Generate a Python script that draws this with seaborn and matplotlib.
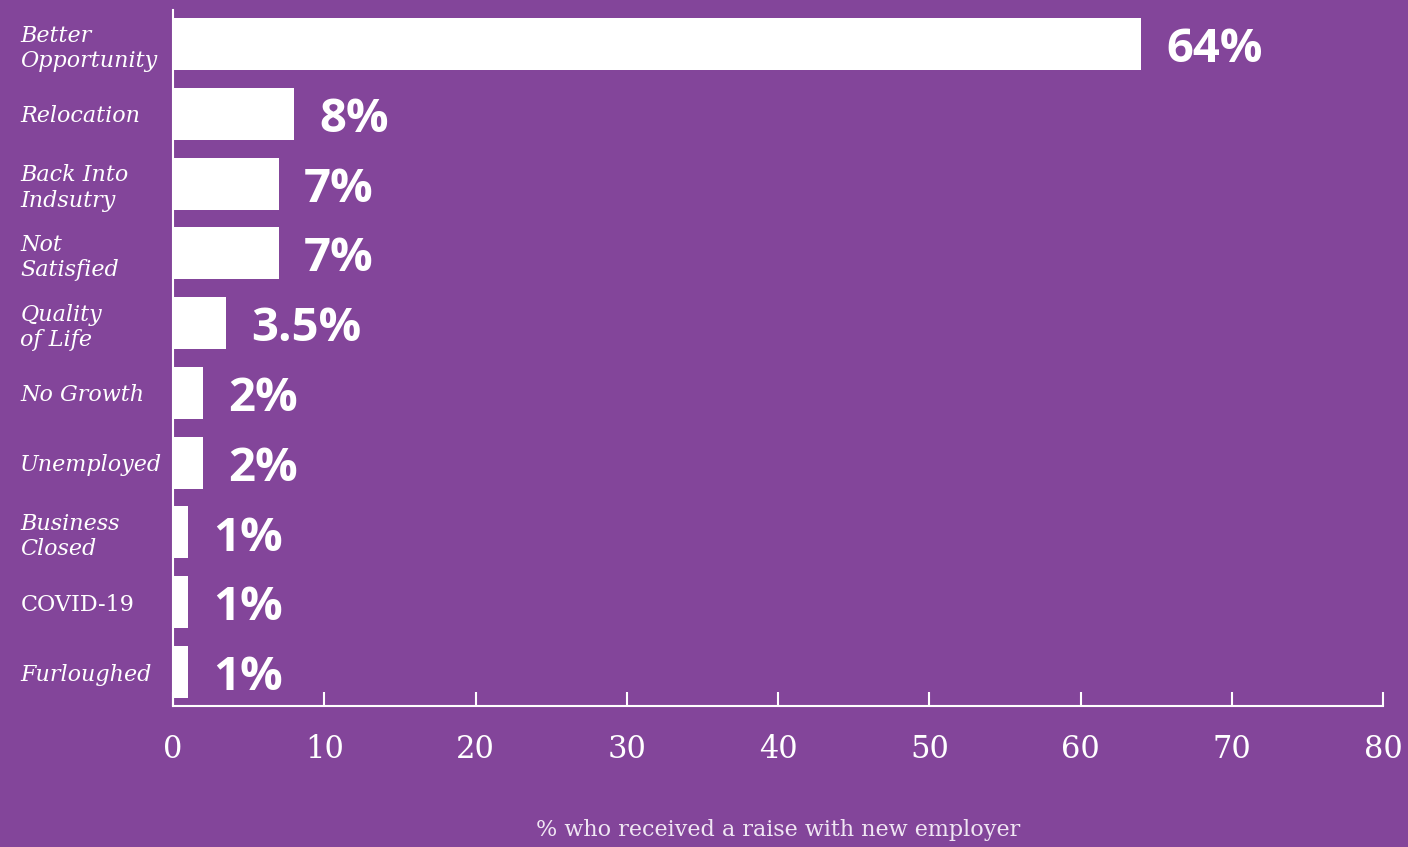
import matplotlib
matplotlib.use('Agg')
import matplotlib.pyplot as plt
import seaborn as sns
import pandas as pd

# ============================================================================
# DATA
# ============================================================================
reasons = ['Better\nOpportunity', 'Relocation', 'Back Into\nIndsutry', 'Not\nSatisfied',
           'Quality\nof Life', 'No Growth', 'Unemployed', 'Business\nClosed',
           'COVID-19', 'Furloughed']
values = [64, 8, 7, 7, 3.5, 2, 2, 1, 1, 1]
value_labels = ['64%', '8%', '7%', '7%', '3.5%', '2%', '2%', '1%', '1%', '1%']
x_ticks = [0, 10, 20, 30, 40, 50, 60, 70, 80]
x_label = '% who received a raise with new employer'

BG = '#83459a'
FG = 'white'

df = pd.DataFrame({'reason': reasons, 'value': values})

sns.set_style('white')
plt.rcParams['font.family'] = ['DejaVu Serif']

fig = plt.figure(figsize=(14.08, 8.47), dpi=100, facecolor=BG)
ax = fig.add_axes([0.1229, 0.1665, 0.8594, 0.8215])
ax.set_facecolor(BG)

sns.barplot(data=df, x='value', y='reason', color=FG, saturation=1,
            width=0.745, orient='h', ax=ax, edgecolor='none')

ax.set_xlim(0, 80)
ax.set_ylim(len(reasons) - 0.513, -0.487)
ax.set_xticks(x_ticks)
ax.set_xticklabels([str(t) for t in x_ticks], fontsize=22, color=FG)
ax.tick_params(axis='x', bottom=True, direction='in', length=10, width=1.5,
               color=FG, pad=20)
ax.tick_params(axis='y', left=False, length=0, pad=110)

ax.set_yticks(range(len(reasons)))
ax.set_yticklabels(reasons, fontsize=16, color=FG, ha='left', linespacing=1.2)
for lab in ax.get_yticklabels():
    if lab.get_text() != 'COVID-19':
        lab.set_style('italic')

ax.set_ylabel('')
ax.set_xlabel(x_label, fontsize=16, color='#f0e6f3', labelpad=39)

for side in ['top', 'right']:
    ax.spines[side].set_visible(False)
for side in ['left', 'bottom']:
    ax.spines[side].set_color(FG)
    ax.spines[side].set_linewidth(1.5)

# value labels
for i, (v, lbl) in enumerate(zip(values, value_labels)):
    ax.annotate(lbl, xy=(v, i), xytext=(18, -4), textcoords='offset points',
                ha='left', va='center', fontsize=34, fontweight='bold',
                color=FG, family='Open Sans')

plt.savefig('out.png', dpi=100, facecolor=BG)
plt.close()
